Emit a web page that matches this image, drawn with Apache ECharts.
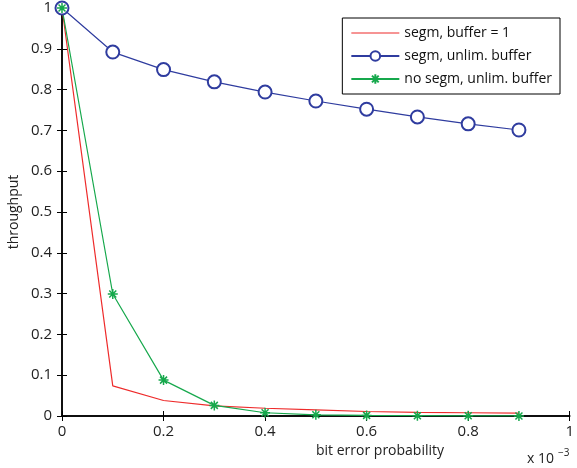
<!DOCTYPE html>
<html>
<head>
<meta charset="utf-8">
<script src="https://cdn.jsdelivr.net/npm/echarts@6/dist/echarts.min.js"></script>
<style>
  html, body { margin: 0; padding: 0; background: #fff; }
  #chart { width: 577px; height: 468px; }
</style>
</head>
<body>
<div id="chart"></div>
<script>
// bit error probability, in units of 1e-3
const errorProb = [0, 0.1, 0.2, 0.3, 0.4, 0.5, 0.6, 0.7, 0.8, 0.9];
const segmBuffer1 = [1, 0.074, 0.038, 0.025, 0.019, 0.015, 0.011, 0.009, 0.008, 0.007];
const segmUnlim = [1, 0.892, 0.849, 0.819, 0.794, 0.772, 0.752, 0.733, 0.716, 0.701];
const noSegmUnlim = [1, 0.299, 0.088, 0.026, 0.008, 0.003, 0.0015, 0.0008, 0.0004, 0.0002];
const seriesNames = ["segm, buffer = 1", "segm, unlim. buffer", "no segm, unlim. buffer"];

const font = "'Open Sans', 'DejaVu Sans', sans-serif";
const RED = "#ee2b2b";
const BLUE = "#2f3c9f";
const GREEN = "#16a84c";
const asterisk = "path://M0 5L10 5M5 0L5 10M1.5 1.5L8.5 8.5M8.5 1.5L1.5 8.5";
// plain line for the legend entry of the marker-less series
const plainLine = "path://M0 0L0 0Z M0 5.4L48 5.4L48 6.6L0 6.6Z M48 12L48 12Z";

const pairs = (ys) => errorProb.map((x, i) => [x, ys[i]]);

const chart = echarts.init(document.getElementById("chart"));

const tickStyle = { show: true, inside: true, length: 5, lineStyle: { color: "#000", width: 1 } };
const lineStyle = { color: "#000", width: 1.5 };

chart.setOption({
  animation: false,
  grid: { left: 62, right: 7, top: 8, bottom: 52, show: false },
  legend: {
    top: 18,
    right: 17,
    orient: "vertical",
    itemWidth: 48,
    itemHeight: 12,
    itemGap: 9,
    padding: [8, 8, 8, 8],
    borderColor: "#000",
    borderWidth: 1,
    backgroundColor: "#fff",
    textStyle: { fontFamily: font, fontSize: 14, color: "#111" },
    data: [
      { name: seriesNames[0], icon: plainLine, itemStyle: { color: RED } },
      seriesNames[1],
      seriesNames[2],
    ],
  },
  xAxis: [
    {
      type: "value",
      min: 0,
      max: 1,
      interval: 0.2,
      axisLine: { show: true, lineStyle },
      axisTick: tickStyle,
      splitLine: { show: false },
      axisLabel: { fontFamily: font, fontSize: 15, color: "#222", margin: 8, formatter: (v) => String(+v.toFixed(1)) },
    },
    {
      type: "value",
      position: "top",
      min: 0,
      max: 1,
      interval: 0.2,
      axisLine: { show: true, lineStyle },
      axisTick: tickStyle,
      splitLine: { show: false },
      axisLabel: { show: false },
    },
  ],
  yAxis: [
    {
      type: "value",
      min: 0,
      max: 1,
      interval: 0.1,
      axisLine: { show: true, lineStyle },
      axisTick: tickStyle,
      splitLine: { show: false },
      axisLabel: { fontFamily: font, fontSize: 15, color: "#222", margin: 10, formatter: (v) => String(+v.toFixed(1)) },
    },
    {
      type: "value",
      position: "right",
      min: 0,
      max: 1,
      interval: 0.1,
      axisLine: { show: true, lineStyle },
      axisTick: tickStyle,
      splitLine: { show: false },
      axisLabel: { show: false },
    },
  ],
  series: [
    {
      name: seriesNames[0],
      type: "line",
      data: pairs(segmBuffer1),
      symbol: "none",
      lineStyle: { color: RED, width: 1.2 },
      itemStyle: { color: RED },
    },
    {
      name: seriesNames[1],
      type: "line",
      data: pairs(segmUnlim),
      symbol: "emptyCircle",
      symbolSize: 13,
      lineStyle: { color: BLUE, width: 1.2 },
      itemStyle: { color: BLUE, borderColor: BLUE, borderWidth: 0.9 },
    },
    {
      name: seriesNames[2],
      type: "line",
      data: pairs(noSegmUnlim),
      symbol: asterisk,
      symbolSize: 10,
      lineStyle: { color: GREEN, width: 1.2 },
      itemStyle: { color: GREEN, borderColor: GREEN, borderWidth: 1.5 },
    },
  ],
  graphic: [
    {
      type: "text",
      left: 316,
      top: 444,
      style: { text: "bit error probability", fontFamily: font, fontSize: 14, fill: "#222", textAlign: "center" },
    },
    {
      type: "text",
      x: 14,
      y: 212,
      rotation: Math.PI / 2,
      style: { text: "throughput", fontFamily: font, fontSize: 14, fill: "#222", textAlign: "center", textVerticalAlign: "middle" },
    },
    {
      type: "text",
      left: 527,
      top: 448,
      style: {
        text: "{b|x 10}{s|−3}",
        rich: {
          b: { fontFamily: font, fontSize: 14, fill: "#222" },
          s: { fontFamily: font, fontSize: 10, fill: "#222", padding: [0, 0, 12, 4] },
        },
      },
    },
  ],
});
</script>
</body>
</html>
